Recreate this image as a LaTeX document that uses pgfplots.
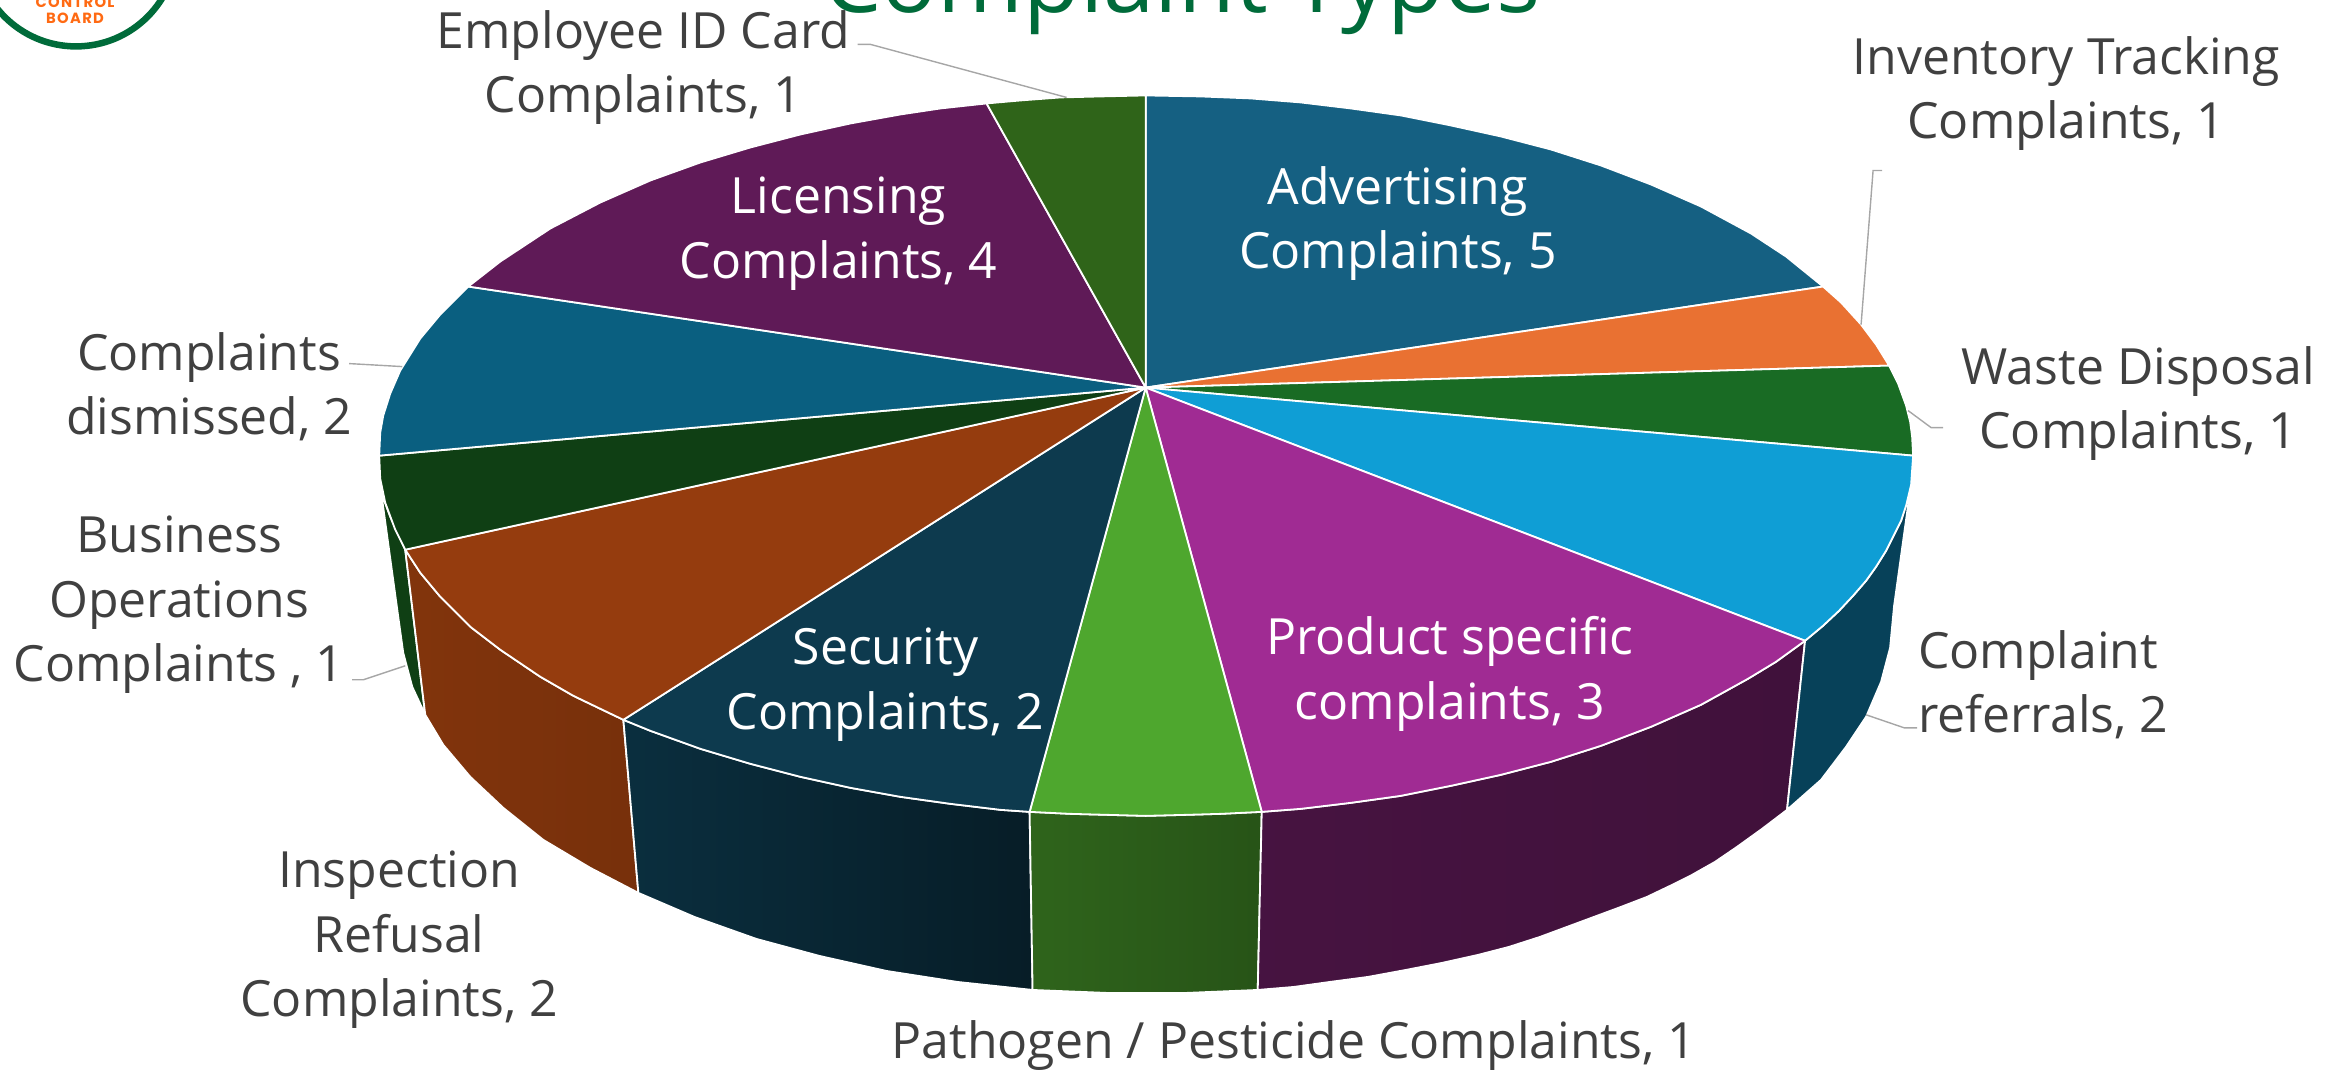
\documentclass[border=0pt]{standalone}
\usepackage{fontspec}
\setmainfont{Open Sans}
\newfontfamily\logofont[LetterSpace=9]{Poppins}
\usepackage{pgfplots}
\pgfplotsset{compat=1.18}
\definecolor{adv}{HTML}{156082}
\definecolor{inv}{HTML}{E97132}
\definecolor{was}{HTML}{196B24}
\definecolor{ref}{HTML}{0F9ED5}
\definecolor{pro}{HTML}{A02B93}
\definecolor{pat}{HTML}{4EA72E}
\definecolor{sec}{HTML}{0D3A4E}
\definecolor{ins}{HTML}{953C0E}
\definecolor{bus}{HTML}{0F3F14}
\definecolor{dis}{HTML}{0A5F80}
\definecolor{lic}{HTML}{5F1A57}
\definecolor{emp}{HTML}{2F6419}
\definecolor{refside}{HTML}{074159}
\definecolor{lbl}{HTML}{404040}
\definecolor{leader}{HTML}{A6A6A6}
\definecolor{ttl}{HTML}{006B3A}
\definecolor{logoO}{HTML}{FF6A13}
\pgfplotsset{
  s/.style={mark=none,sharp plot,draw=white,line width=0.018cm,line join=round},
  ld/.style={mark=none,sharp plot,draw=leader,line width=0.014cm},
}
\newcommand{\lab}{\fontsize{14.2}{18.35}\selectfont}
\begin{document}
\begin{tikzpicture}[x=0.01cm,y=0.01cm]
\path[use as bounding box,clip] (0,0) rectangle (2351,1070);
\begin{axis}[at={(0,0)},anchor=south west,width=23.51cm,height=10.70cm,scale only axis,
  xmin=0,xmax=2351,ymin=0,ymax=1070,y dir=reverse,hide axis,clip=false]
% sides
\addplot[s,fill=bus] coordinates {(381,493)(390,517)(405,550)(425,715)(412,687)(403,653)(398,617)} --cycle;
\addplot[s,left color=ins!87!black,right color=ins!80!black] coordinates {(405,550)(420,573)(440,597)(470,627)(500,650)(540,677)(573,696)(600,709)(623,720)(638,893)(590,868)(543,840)(503,808)(470,777)(443,745)(425,715)} --cycle;
\addplot[s,left color=sec!80!black,right color=sec!50!black] coordinates {(623,720)(650,731)(700,749)(750,764)(800,777)(850,788)(900,797)(950,804)(1000,810)(1029,812)(1032,990)(957,982)(886,971)(819,956)(756,939)(694,917)(638,893)} --cycle;
\addplot[s,left color=pat!60!black,right color=pat!50!black] coordinates {(1029,812)(1070,814)(1107,815)(1145,816)(1185,815)(1220,814)(1261,812)(1257,990)(1185,993)(1107,993)(1032,990)} --cycle;
\addplot[s,left color=pro!44!black,right color=pro!40!black] coordinates {(1261,812)(1300,809)(1350,803)(1400,796)(1450,786)(1500,775)(1550,762)(1600,746)(1650,727)(1700,705)(1747,679)(1775,662)(1804,641)(1786,810)(1761,829)(1736,847)(1714,862)(1691,875)(1669,886)(1646,897)(1620,907)(1593,917)(1566,927)(1539,937)(1508,947)(1477,955)(1441,963)(1405,970)(1367,977)(1329,982)(1293,987)(1257,990)} --cycle;
\addplot[s,fill=refside] coordinates {(1804,641)(1822,626)(1838,611)(1852,596)(1865,581)(1875,567)(1885,551)(1900,521)(1909,491)(1893,606)(1889,648)(1880,682)(1865,717)(1845,747)(1820,780)(1786,810)} --cycle;
% top faces
\addplot[s,fill=adv] coordinates {(1145,388)(1145,96)(1200,97)(1250,99)(1300,103)(1350,109)(1400,116)(1450,126)(1500,137)(1550,150)(1600,166)(1650,185)(1700,207)(1750,234)(1785,257)(1822,287)} --cycle;
\addplot[s,fill=inv] coordinates {(1145,388)(1822,287)(1840,303)(1860,325)(1875,345)(1888,366)} --cycle;
\addplot[s,fill=was] coordinates {(1145,388)(1888,366)(1897,384)(1905,406)(1909,422)(1911,437)(1912,456)} --cycle;
\addplot[s,fill=ref] coordinates {(1145,388)(1912,456)(1910,485)(1905,506)(1900,521)(1885,551)(1875,567)(1865,581)(1852,596)(1838,611)(1822,626)(1804,641)} --cycle;
\addplot[s,fill=pro] coordinates {(1145,388)(1804,641)(1775,662)(1747,679)(1700,705)(1650,727)(1600,746)(1550,762)(1500,775)(1450,786)(1400,796)(1350,803)(1300,809)(1261,812)} --cycle;
\addplot[s,fill=pat] coordinates {(1145,388)(1261,812)(1220,814)(1185,815)(1145,816)(1107,815)(1070,814)(1029,812)} --cycle;
\addplot[s,fill=sec] coordinates {(1145,388)(1029,812)(1000,810)(950,804)(900,797)(850,788)(800,777)(750,764)(700,749)(650,731)(623,720)} --cycle;
\addplot[s,fill=ins] coordinates {(1145,388)(623,720)(600,709)(573,696)(540,677)(500,650)(470,627)(440,597)(420,573)(405,550)} --cycle;
\addplot[s,fill=bus] coordinates {(1145,388)(405,550)(395,530)(385,503)(380,479)(379,456)} --cycle;
\addplot[s,fill=dis] coordinates {(1145,388)(379,456)(380,433)(383,416)(390,394)(400,371)(420,339)(440,315)(468,287)} --cycle;
\addplot[s,fill=lic] coordinates {(1145,388)(468,287)(500,262)(550,229)(600,203)(650,181)(700,163)(750,148)(800,135)(850,124)(900,115)(940,109)(986,104)} --cycle;
\addplot[s,fill=emp] coordinates {(1145,388)(986,104)(1020,101)(1060,98)(1100,97)(1145,96)} --cycle;
% leader lines
\addplot[ld] coordinates {(857,45)(870,45)(1066,98)};
\addplot[ld] coordinates {(1881,171)(1872,171)(1860,325)};
\addplot[ld] coordinates {(1907,411)(1930,428)(1942,428)};
\addplot[ld] coordinates {(1865,715)(1903,728)(1916,728)};
\addplot[ld] coordinates {(349,364)(367,365)(402,367)};
\addplot[ld] coordinates {(352,680)(363,680)(405,666)};
% labels
\node[text=lbl,align=center,font=\lab] at (axis cs:643,68) {Employee ID Card\\Complaints, 1};
\node[text=lbl,align=center,font=\lab] at (axis cs:2065,94) {Inventory Tracking\\Complaints, 1};
\node[text=lbl,align=center,font=\lab] at (axis cs:2137,404) {Waste Disposal\\Complaints, 1};
\node[text=lbl,align=left,font=\lab] at (axis cs:2042,685) {Complaint\\referrals, 2};
\node[text=lbl,align=center,font=\lab] at (axis cs:1293,1046) {Pathogen / Pesticide Complaints, 1};
\node[text=lbl,align=center,font=\lab] at (axis cs:399,940) {Inspection\\Refusal\\Complaints, 2};
\node[text=lbl,align=center,font=\lab] at (axis cs:179,605) {Business\\Operations\\Complaints , 1};
\node[text=lbl,align=center,font=\lab] at (axis cs:209,387) {Complaints\\dismissed, 2};
\node[text=white,align=center,font=\lab] at (axis cs:838,234) {Licensing\\Complaints, 4};
\node[text=white,align=center,font=\lab] at (axis cs:1397,224) {Advertising\\Complaints, 5};
\node[text=white,align=center,font=\lab] at (axis cs:1449,674) {Product specific\\complaints, 3};
\node[text=white,align=center,font=\lab] at (axis cs:885,685) {Security\\Complaints, 2};
% title and logo
\node[text=ttl,anchor=base,font=\fontsize{26.3}{32}\selectfont] at (axis cs:1181,13) {Complaint Types};
\draw[ttl,line width=0.065cm] (axis cs:76,-54) circle[radius=1.01cm];
\node[text=logoO,anchor=base,font=\logofont\fontsize{4.2}{5}\selectfont\bfseries] at (axis cs:75,8) {CONTROL};
\node[text=logoO,anchor=base,font=\logofont\fontsize{4.2}{5}\selectfont\bfseries] at (axis cs:75,24.5) {BOARD};
\end{axis}
\end{tikzpicture}
\end{document}
